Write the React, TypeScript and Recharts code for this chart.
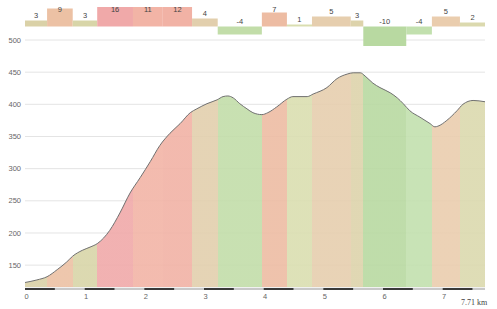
import React from "react"
import {
  ComposedChart,
  Area,
  XAxis,
  YAxis,
  CartesianGrid,
  ReferenceArea,
} from "recharts"

const TOTAL_KM = 7.71

// elevation profile (km, metres)
const profileKm = [
  0, 0.2, 0.37, 0.54, 0.7, 0.8, 0.96, 1.09, 1.22, 1.42, 1.59, 1.76, 1.93, 2.1,
  2.26, 2.43, 2.6, 2.77, 2.88, 3.05, 3.22, 3.32, 3.4, 3.49, 3.6, 3.72, 3.82,
  3.97, 4.07, 4.22, 4.39, 4.49, 4.73, 4.83, 5.06, 5.23, 5.4, 5.5, 5.62, 5.7,
  5.83, 5.95, 6.12, 6.24, 6.34, 6.45, 6.62, 6.79, 6.87, 6.92, 7.07, 7.24, 7.34,
  7.51, 7.71,
]
const profileEle = [
  123, 127, 132, 143, 155, 164, 173, 178, 184, 204, 231, 262, 286, 311, 336,
  355, 370, 387, 393, 401, 407, 412, 413, 410, 401, 393, 387, 384, 387, 396,
  408, 412, 412, 416, 426, 440, 447, 449, 449, 444, 433, 426, 418, 410, 401,
  390, 380, 370, 365, 366, 375, 390, 400, 406, 404,
]

// slope segments (start km, grade %)
const segStart = [
  0, 0.37, 0.8, 1.21, 1.81, 2.31, 2.8, 3.23, 3.97, 4.39, 4.81, 5.46, 5.67,
  6.39, 6.82, 7.29,
]
const grades = [3, 9, 3, 16, 11, 12, 4, -4, 7, 1, 5, 3, -10, -4, 5, 2]

const segColors = [
  "#dad1a7", "#ecc1a4", "#d8d5a8", "#f0a9a9", "#f2b4a6", "#f1b2a5", "#e2cfad",
  "#c2dda9", "#edbca3", "#dadeb0", "#e6ceae", "#ddd3ab", "#b8d9a1", "#c2e0ae",
  "#eacdae", "#dbd9ae",
]

const kmTicks = [0, 1, 2, 3, 4, 5, 6, 7]
const eleTicks = [150, 200, 250, 300, 350, 400, 450, 500]

const profile = profileKm.map((km, i) => ({ km, ele: profileEle[i] }))
const segments = segStart.map((start, i) => ({
  start,
  end: i < segStart.length - 1 ? segStart[i + 1] : TOTAL_KM,
  grade: grades[i],
  color: segColors[i],
}))

const PLOT_LEFT = 25
const PLOT_RIGHT = 485
const PX_PER_KM = (PLOT_RIGHT - PLOT_LEFT) / TOTAL_KM
const FONT = "'Liberation Sans', Arial, sans-serif"

function GradeLabel({ viewBox, grade }: any) {
  const { x, y, width } = viewBox
  return (
    <text
      x={x + width / 2}
      y={Math.max(y - 3, 12)}
      textAnchor="middle"
      fontSize={7.5}
      fontFamily={FONT}
      fill="#444"
    >
      {grade}
    </text>
  )
}

function KmTick({ x, y, payload }: any) {
  const end = Math.min(x + PX_PER_KM, PLOT_RIGHT)
  return (
    <g>
      <line x1={x} x2={end} y1={y + 2} y2={y + 2} stroke="#c8c8c8" strokeWidth={2} />
      <line x1={x} x2={x + PX_PER_KM / 2} y1={y + 2} y2={y + 2} stroke="#3a3a3a" strokeWidth={2} />
      <text x={x + 1.5} y={y + 12} textAnchor="middle" fontSize={7.5} fontFamily={FONT} fill="#666">
        {payload.value}
      </text>
    </g>
  )
}

export default function App() {
  const stops = segments.flatMap((s, i) => [
    <stop key={i + "a"} offset={s.start / TOTAL_KM} stopColor={s.color} />,
    <stop key={i + "b"} offset={s.end / TOTAL_KM} stopColor={s.color} />,
  ])

  return (
    <div style={{ position: "absolute", left: 0, top: 0, width: 497, height: 309, background: "#fff" }}>
      <div style={{ position: "absolute", left: 0, top: 0 }}>
        <ComposedChart
          width={497}
          height={309}
          data={profile}
          margin={{ top: 40, right: 12, bottom: 0, left: 0 }}
        >
          <defs>
            <linearGradient id="slopeFill" x1="0" y1="0" x2="1" y2="0">
              {stops}
            </linearGradient>
          </defs>
          <CartesianGrid vertical={false} stroke="#e4e4e4" />
          <XAxis
            type="number"
            dataKey="km"
            domain={[0, TOTAL_KM]}
            ticks={kmTicks}
            allowDataOverflow
            axisLine={false}
            tickLine={false}
            tickSize={0}
            tickMargin={0}
            height={22}
            tick={<KmTick />}
          />
          <YAxis
            domain={[116, 500]}
            ticks={eleTicks}
            allowDataOverflow
            width={25}
            axisLine={false}
            tickLine={false}
            tickSize={0}
            tickMargin={4}
            tick={{ fontSize: 7.5, fontFamily: FONT, fill: "#666" }}
          />
          <Area
            type="monotone"
            dataKey="ele"
            stroke="#707070"
            strokeWidth={1}
            fill="url(#slopeFill)"
            fillOpacity={0.9}
            isAnimationActive={false}
            dot={false}
            activeDot={false}
          />
        </ComposedChart>
      </div>
      <div style={{ position: "absolute", left: 0, top: 0 }}>
        <ComposedChart
          width={497}
          height={53}
          data={profile}
          margin={{ top: 7, right: 12, bottom: 7, left: PLOT_LEFT }}
        >
          <XAxis hide type="number" dataKey="km" domain={[0, TOTAL_KM]} allowDataOverflow />
          <YAxis hide domain={[-9.75, 9.75]} allowDataOverflow />
          {segments.map((s, i) => (
            <ReferenceArea
              key={i}
              x1={s.start}
              x2={s.end}
              y1={0}
              y2={s.grade}
              fill={s.color}
              fillOpacity={1}
              stroke="none"
              ifOverflow="hidden"
              label={<GradeLabel grade={s.grade} />}
            />
          ))}
        </ComposedChart>
      </div>
      <div
        style={{
          position: "absolute",
          left: 461,
          top: 298,
          fontSize: 8,
          fontFamily: "'Liberation Serif', serif",
          color: "#444",
          whiteSpace: "nowrap",
        }}
      >
        7.71 km
      </div>
    </div>
  )
}
